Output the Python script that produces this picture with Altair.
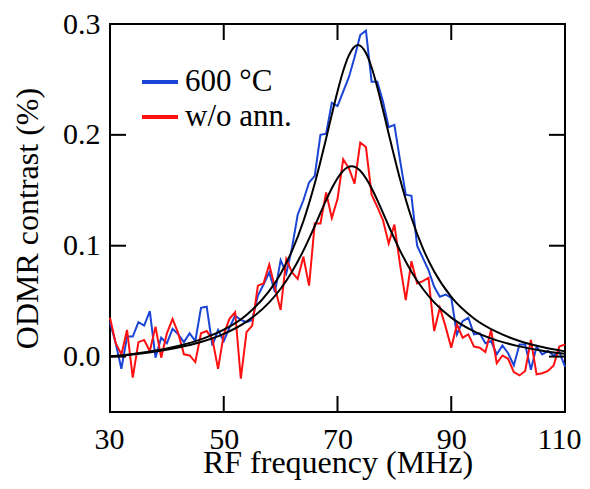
import altair as alt
import pandas as pd

# ---- data ----
freq = list(range(30, 111))

blue_vals = [0.031, 0.012, -0.011, 0.018, 0.018, 0.031, 0.028, 0.041, -0.001, 0.017,
             0.012, 0.025, 0.020, 0.013, 0.021, 0.014, 0.044, 0.045, 0.010, 0.024,
             0.014, 0.026, 0.037, 0.033, 0.031, 0.033, 0.055, 0.065, 0.076, 0.058,
             0.087, 0.075, 0.098, 0.128, 0.141, 0.157, 0.163, 0.200, 0.201, 0.229,
             0.226, 0.239, 0.252, 0.270, 0.290, 0.294, 0.248, 0.248, 0.230, 0.207,
             0.209, 0.177, 0.146, 0.145, 0.100, 0.089, 0.078, 0.063, 0.054, 0.056,
             0.053, 0.020, 0.032, 0.035, 0.020, 0.021, 0.012, 0.014, 0.002, 0.010,
             0.003, -0.008, 0.011, 0.011, -0.012, 0.009, 0.002, 0.005, 0.001, 0.004,
             -0.009]

red_vals = [0.035, 0.012, 0.002, 0.024, -0.019, 0.013, 0.015, 0.005, 0.027, -0.001,
            0.021, 0.034, 0.021, 0.002, 0.001, -0.005, 0.021, 0.023, 0.016, -0.011,
            0.020, 0.034, 0.040, -0.020, 0.022, 0.028, 0.064, 0.066, 0.083, 0.062,
            0.042, 0.088, 0.076, 0.070, 0.090, 0.064, 0.120, 0.120, 0.148, 0.125,
            0.142, 0.178, 0.170, 0.156, 0.193, 0.189, 0.146, 0.135, 0.123, 0.102,
            0.119, 0.083, 0.051, 0.086, 0.066, 0.068, 0.071, 0.023, 0.044, 0.027,
            0.008, 0.029, 0.017, 0.020, 0.009, 0.008, 0.004, 0.024, -0.006, 0.001,
            -0.002, -0.014, -0.017, -0.013, 0.015, -0.016, -0.015, -0.013, -0.008, 0.009,
            0.011]

fit_blue_f = [30, 34, 38, 42, 46, 50, 54, 58, 60, 62, 64, 66, 68, 69, 70, 71, 72, 73.6,
              75, 76, 77, 78, 79, 81, 83, 85, 87, 90, 94, 98, 102, 106, 110]
fit_blue_v = [0.0, 0.0023, 0.0054, 0.0096, 0.0155, 0.0242, 0.0376, 0.0592, 0.0748, 0.0954,
              0.1221, 0.1561, 0.1967, 0.2183, 0.2391, 0.2576, 0.2717, 0.2810,
              0.2738, 0.2608, 0.2430, 0.2225, 0.2010, 0.1599, 0.1252, 0.0978, 0.0767,
              0.0539, 0.0344, 0.0222, 0.0141, 0.0086, 0.0047]

fit_red_f = [30, 34, 38, 42, 46, 50, 54, 58, 60, 62, 64, 66, 68, 69, 70, 71, 72.5,
             74, 75, 76, 77, 79, 81, 83, 85, 87, 90, 94, 98, 102, 106, 110]
fit_red_v = [0.0, 0.0019, 0.0045, 0.0081, 0.0131, 0.0204, 0.0315, 0.0489, 0.0612, 0.0766,
             0.0956, 0.1178, 0.1411, 0.1518, 0.1609, 0.1676, 0.1716,
             0.1676, 0.1609, 0.1518, 0.1411, 0.1178, 0.0956, 0.0766, 0.0612, 0.0489,
             0.0351, 0.0227, 0.0146, 0.0092, 0.0053, 0.0025]

series_names = ["600 °C", "w/o ann."]
series_colors = ["#1a44d6", "#ff1010"]

x_ticks = [30, 50, 70, 90, 110]
y_ticks = [0.0, 0.1, 0.2, 0.3]
x_inner_ticks = [50, 70, 90]

FONT = "Liberation Serif"
W, H = 455, 388
TICK = 16

df = pd.DataFrame({
    "f": freq * 2,
    "v": blue_vals + red_vals,
    "s": [series_names[0]] * len(freq) + [series_names[1]] * len(freq),
})
fits = pd.DataFrame({
    "f": fit_blue_f + fit_red_f,
    "v": fit_blue_v + fit_red_v,
    "s": ["blue"] * len(fit_blue_f) + ["red"] * len(fit_red_f),
})
xt_df = pd.DataFrame({"f": x_inner_ticks})
yt_df = pd.DataFrame({"v": y_ticks[:-1]})

xs = alt.Scale(domain=[30, 110], nice=False, zero=False)
ys = alt.Scale(domain=[-0.05, 0.3], nice=False, zero=False)

x_axis = alt.Axis(values=x_ticks, format="d", title="RF frequency (MHz)", ticks=False,
                  domain=False, grid=False, labelFlush=True, labelFlushOffset=16,
                  labelPadding=12, titlePadding=-7)
y_axis = alt.Axis(values=y_ticks, format=".1f", title="ODMR contrast (%)", ticks=False,
                  domain=False, grid=False, labelFlush=False, labelPadding=10,
                  titlePadding=18)

X = alt.X("f:Q", scale=xs, axis=x_axis, title="RF frequency (MHz)")
Y = alt.Y("v:Q", scale=ys, axis=y_axis, title="ODMR contrast (%)")

data_layer = alt.Chart(df).mark_line(strokeWidth=2).encode(
    x=X, y=Y,
    color=alt.Color("s:N", scale=alt.Scale(domain=series_names, range=series_colors),
                    legend=alt.Legend(orient="none", legendX=30, legendY=38, title=None,
                                      symbolType="stroke", symbolSize=1296,
                                      symbolStrokeWidth=4, labelFontSize=31,
                                      labelFont=FONT, labelColor="black",
                                      labelOffset=5, rowPadding=0, padding=0)),
)

fit_layer = alt.Chart(fits).mark_line(color="black", strokeWidth=2,
                                      interpolate="monotone").encode(
    x=X, y=Y, detail="s:N",
)

bottom_ticks = alt.Chart(xt_df).mark_rule(color="black", strokeWidth=2).encode(
    x=X, y=alt.value(H), y2=alt.value(H - TICK))
top_ticks = alt.Chart(xt_df).mark_rule(color="black", strokeWidth=2).encode(
    x=X, y=alt.value(0), y2=alt.value(TICK))
left_ticks = alt.Chart(yt_df).mark_rule(color="black", strokeWidth=2).encode(
    y=Y, x=alt.value(0), x2=alt.value(TICK))
right_ticks = alt.Chart(yt_df).mark_rule(color="black", strokeWidth=2).encode(
    y=Y, x=alt.value(W), x2=alt.value(W - TICK))

chart = alt.layer(
    data_layer, fit_layer, bottom_ticks, top_ticks, left_ticks, right_ticks
).properties(
    width=W, height=H,
    background="white",
    autosize=alt.AutoSizeParams(type="none"),
    padding={"left": 102, "top": 16, "right": 17, "bottom": 69},
).configure_view(
    stroke="black", strokeWidth=2
).configure_axis(
    labelFont=FONT, titleFont=FONT, labelFontSize=30, titleFontSize=32,
    labelColor="black", titleColor="black", titleFontWeight="normal"
)

chart.save("out.html", embed_options={"renderer": "svg", "actions": False})
